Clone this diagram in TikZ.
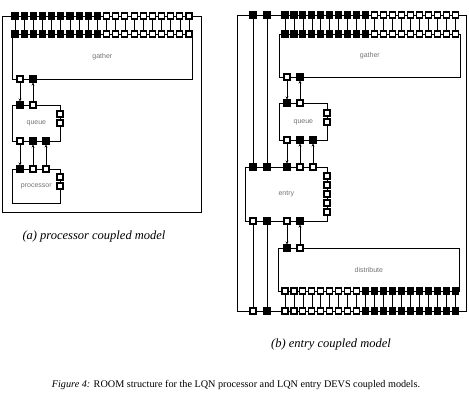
\documentclass[tikz,border=0pt]{standalone}
\usepackage{fontspec}
\setmainfont{Liberation Serif}
\setsansfont{Liberation Sans}
\usetikzlibrary{arrows.meta}
\begin{document}
\begin{tikzpicture}[x=1pt, y=-1pt,
  port/.style={draw, line width=1.1pt, minimum size=6pt, inner sep=0pt},
  frame/.style={draw, line width=0.7pt},
  box/.style={draw, line width=0.7pt, inner sep=0pt, anchor=north west,
    font=\fontsize{7}{8}\sffamily, text=black!55},
  link/.style={line width=0.7pt},
  flow/.style={line width=0.7pt, -{Stealth[length=3pt,width=3pt]}},
  capt/.style={font=\fontsize{12.5}{14}\selectfont\itshape}]
  \useasboundingbox (0,0) rectangle (469,403);

  % (a) processor coupled model
  \draw[frame] (2,16) rectangle (201,212);
  \node[box, minimum width=180pt, minimum height=45pt] (gatherA) at (12,34) {gather};
  \node[box, minimum width=48pt, minimum height=36pt] (queueA) at (12,105) {queue};
  \node[box, minimum width=48pt, minimum height=34pt] (procA) at (12,169) {processor};

  \foreach \i in {0,...,19}{
    \ifnum\i<10 \def\pc{black}\else\def\pc{white}\fi
    \node[port, fill=\pc] (ta\i) at ({15+9.16*\i},16) {};
    \node[port, fill=\pc] (ga\i) at ({15+9.16*\i},34) {};
    \draw[link] (ta\i) -- (ga\i);
  }

  \node[port, fill=white] (gba0) at (20,79) {};
  \node[port, fill=black] (gba1) at (33,79) {};
  \node[port, fill=black] (qta0) at (20,105) {};
  \node[port, fill=white] (qta1) at (33,105) {};
  \node[port, fill=white] (qra0) at (60,114) {};
  \node[port, fill=white] (qra1) at (60,123) {};
  \node[port, fill=white] (qba0) at (20,141) {};
  \node[port, fill=black] (qba1) at (33,141) {};
  \node[port, fill=black] (qba2) at (46,141) {};
  \node[port, fill=black] (pta0) at (20,169) {};
  \node[port, fill=white] (pta1) at (33,169) {};
  \node[port, fill=white] (pta2) at (46,169) {};
  \node[port, fill=white] (pra0) at (60,177) {};
  \node[port, fill=white] (pra1) at (60,186) {};

  \draw[flow] (gba0) -- (qta0);
  \draw[flow] (qta1) -- (gba1);
  \draw[flow] (qba0) -- (pta0);
  \draw[flow] (pta1) -- (qba1);
  \draw[flow] (pta2) -- (qba2);

  \node[capt] (capA) at (94,236) {(a) processor coupled model};

  % (b) entry coupled model
  \draw[frame] (237,15) rectangle (466,311);
  \node[box, minimum width=181pt, minimum height=43pt] (gatherB) at (279,34) {gather};
  \node[box, minimum width=48pt, minimum height=37pt] (queueB) at (279,103) {queue};
  \node[box, minimum width=82pt, minimum height=54pt] (entryB) at (245,167) {entry};
  \node[box, minimum width=181pt, minimum height=43pt] (distB) at (278,248) {distribute};

  \foreach \i in {0,...,19}{
    \ifnum\i<10 \def\pc{black}\else\def\pc{white}\fi
    \ifnum\i<9 \def\qc{white}\else\def\qc{black}\fi
    \node[port, fill=\pc] (tb\i) at ({285+8.95*\i},15) {};
    \node[port, fill=\pc] (gb\i) at ({285+8.95*\i},34) {};
    \draw[link] (tb\i) -- (gb\i);
    \node[port, fill=\qc] (db\i) at ({285+8.95*\i},291) {};
    \node[port, fill=\qc] (bb\i) at ({285+8.95*\i},311) {};
    \draw[link] (db\i) -- (bb\i);
  }

  \node[port, fill=black] (tl0) at (253,15) {};
  \node[port, fill=black] (tl1) at (267,15) {};
  \node[port, fill=white] (bl0) at (253,311) {};
  \node[port, fill=black] (bl1) at (267,311) {};

  \node[port, fill=white] (gbb0) at (287,77) {};
  \node[port, fill=black] (gbb1) at (300,77) {};
  \node[port, fill=black] (qtb0) at (287,103) {};
  \node[port, fill=white] (qtb1) at (300,103) {};
  \node[port, fill=white] (qrb0) at (327,113) {};
  \node[port, fill=white] (qrb1) at (327,122) {};
  \node[port, fill=white] (qbb0) at (287,140) {};
  \node[port, fill=black] (qbb1) at (300,140) {};
  \node[port, fill=black] (qbb2) at (313,140) {};

  \node[port, fill=black] (et0) at (253,167) {};
  \node[port, fill=black] (et1) at (267,167) {};
  \node[port, fill=black] (et2) at (287,167) {};
  \node[port, fill=white] (et3) at (300,167) {};
  \node[port, fill=white] (et4) at (313,167) {};
  \foreach \j in {0,...,4}
    \node[port, fill=white] (er\j) at (327,{176+9*\j}) {};
  \node[port, fill=white] (eb0) at (253,221) {};
  \node[port, fill=black] (eb1) at (267,221) {};
  \node[port, fill=white] (eb2) at (287,221) {};
  \node[port, fill=black] (eb3) at (300,221) {};

  \node[port, fill=black] (dt0) at (287,248) {};
  \node[port, fill=white] (dt1) at (300,248) {};

  \draw[link] (tl0) -- (et0);
  \draw[link] (tl1) -- (et1);
  \draw[link] (eb0) -- (bl0);
  \draw[link] (eb1) -- (bl1);
  \draw[flow] (gbb0) -- (qtb0);
  \draw[flow] (qtb1) -- (gbb1);
  \draw[flow] (qbb0) -- (et2);
  \draw[flow] (et3) -- (qbb1);
  \draw[flow] (et4) -- (qbb2);
  \draw[flow] (eb2) -- (dt0);
  \draw[flow] (dt1) -- (eb3);

  \node[capt] (capB) at (331,345) {(b) entry coupled model};
  \node[font=\fontsize{10.2}{12}\selectfont] (figcap) at (236,385) {\textit{Figure 4:} ROOM structure for the LQN processor and LQN entry DEVS coupled models.};
\end{tikzpicture}
\end{document}
